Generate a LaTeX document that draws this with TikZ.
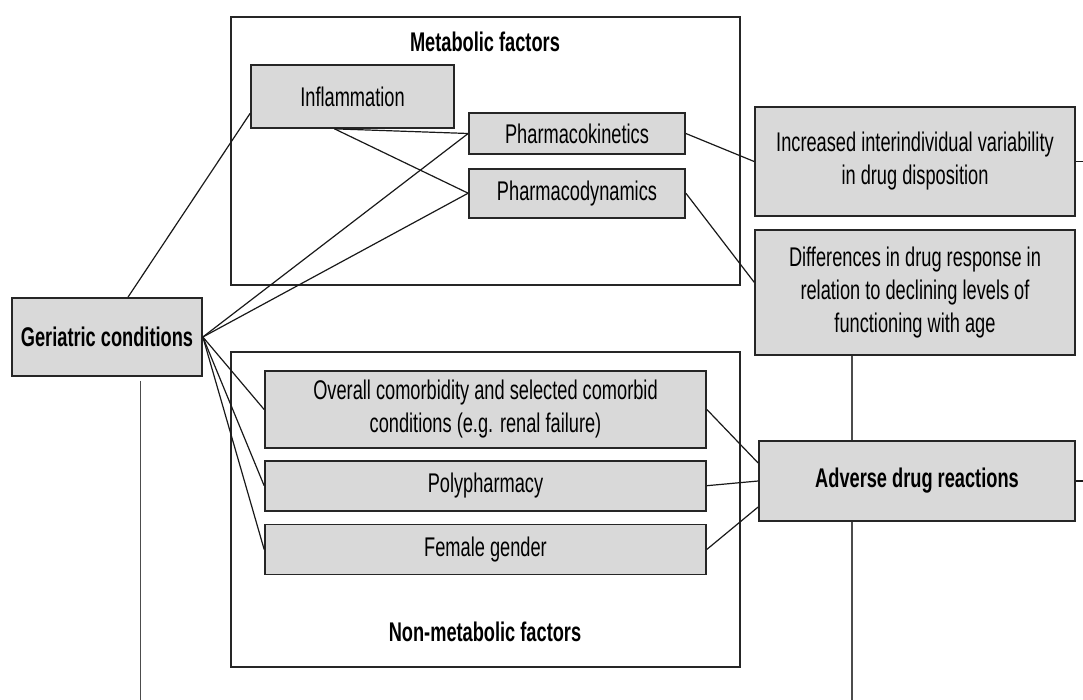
\documentclass[tikz,border=0pt]{standalone}
\usepackage{fontspec}
\setmainfont{Liberation Sans}[FakeStretch=0.675]
\usepackage{tikz}
\usetikzlibrary{positioning,calc}

\begin{document}
\begin{tikzpicture}[x=0.5pt,y=-0.5pt,  %one unit is one pixel of the figure
		box/.style={rectangle,draw=black!85,fill=black!15,line width=0.85pt,inner sep=0pt,align=center,
			font=\fontsize{13.5}{16.5}\selectfont,text=black},
		bold box/.style={box,font=\fontsize{13.5}{16.5}\selectfont\bfseries},
		frame/.style={rectangle,draw=black!85,line width=0.75pt,inner sep=0pt},
		heading/.style={font=\fontsize{13.5}{16.5}\selectfont\bfseries,text=black},
		link/.style={draw=black!90,line width=0.6pt},
		trunk line/.style={draw=black!70,line width=0.6pt}
	]
	\useasboundingbox (0,0) rectangle (1083,700);

	\node[frame, minimum width=254.5pt, minimum height=134pt] (metabolic) at (485.5,151) {};
	\node[heading] at (485,42) {Metabolic factors};
	\node[frame, minimum width=254.5pt, minimum height=157.5pt] (nonmetabolic) at (485.5,509.5) {};
	\node[heading] at (485,632) {Non-metabolic factors};

	\node[bold box, minimum width=95pt, minimum height=39pt] (geri) at (107,337) {Geriatric conditions};

	\node[box, minimum width=101.5pt, minimum height=31.5pt] (infl) at (352.5,96.5) {Inflammation};
	\node[box, minimum width=108pt, minimum height=20.5pt] (phk) at (577,133.5) {Pharmacokinetics};
	\node[box, minimum width=108pt, minimum height=24.5pt] (phd) [below=6.5pt of phk] {Pharmacodynamics};

	\node[box, minimum width=220.5pt, minimum height=38.5pt] (comorb) at (485.5,409.5)
		{Overall comorbidity and selected comorbid\\conditions (e.g. renal failure)};
	\node[box, minimum width=220.5pt, minimum height=25pt] (poly) [below=5.5pt of comorb] {Polypharmacy};
	\node[box, minimum width=220.5pt, minimum height=25pt] (female) [below=6pt of poly] {Female gender};

	\node[box, minimum width=160pt, minimum height=54.5pt] (variab) at (915,161.5)
		{Increased interindividual variability\\in drug disposition};
	\node[box, minimum width=160pt, minimum height=62.5pt] (respon) [below=6pt of variab]
		{Differences in drug response in\\relation to declining levels of\\functioning with age};
	\node[bold box, minimum width=158pt, minimum height=40pt] (adr) at (917,481) {Adverse drug reactions};

	\coordinate (gtop) at (140.5,381);
	\coordinate (gbot) at (140.5,700);
	\coordinate (trunk) at (852,700);
	\coordinate (rim) at (1083,0);

	\draw[link] ($(geri.north)+(21,0)$) -- ($(infl.south west)!0.24!(infl.north west)$);
	\draw[link] ($(infl.south)+(-18,0)$) -- (phk.west);
	\draw[link] ($(infl.south)+(-18,0)$) -- (phd.west);
	\foreach \to in {phk,phd,comorb,poly,female}
		\draw[link] (geri.east) -- (\to.west);

	\draw[link] (phk.east) -- (variab.west);
	\draw[link] (phd.east) -- ($(respon.west)+(0,-10)$);
	\draw[link] (comorb.east) -- ($(adr.west)+(0,-18)$);
	\draw[link] (poly.east) -- (adr.west);
	\draw[link] (female.east) -- ($(adr.west)+(0,26)$);

	\draw[trunk line] (gtop) -- (gbot);
	\draw[trunk line] (respon.south -| trunk) -- (adr.north -| trunk);
	\draw[trunk line] (adr.south -| trunk) -- (trunk);
	\draw[link] (variab.east) -- (variab.east -| rim);
	\draw[link] (adr.east) -- (adr.east -| rim);

\end{tikzpicture}
\end{document}
